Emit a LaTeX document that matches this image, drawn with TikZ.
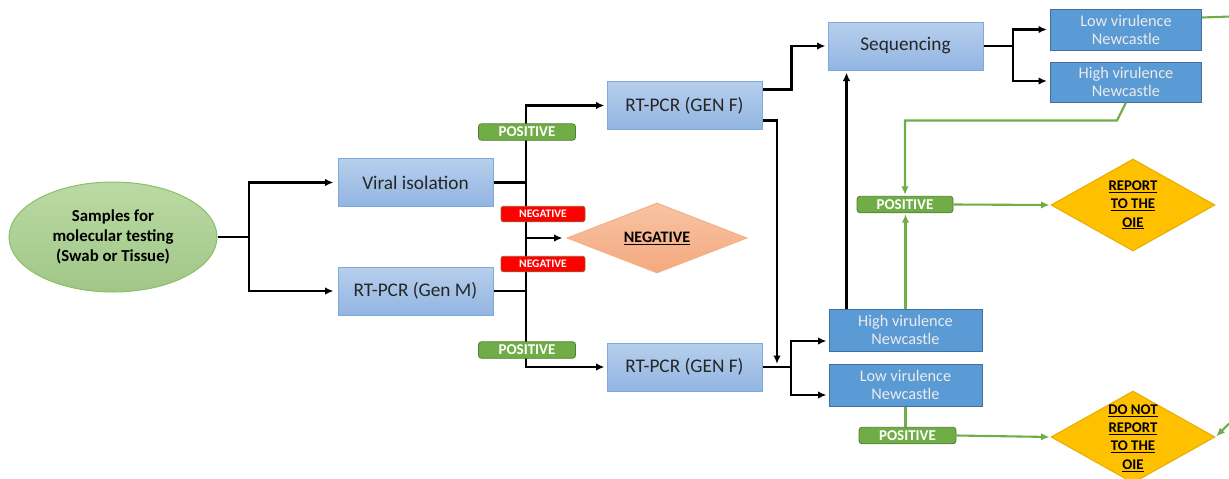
\documentclass[tikz,border=0pt]{standalone}
\usepackage{fontspec}
\setmainfont{Carlito}
\usetikzlibrary{shapes.geometric,arrows.meta,calc}
\definecolor{lbTop}{HTML}{B7CFEC}
\definecolor{lbBot}{HTML}{92B5E2}
\definecolor{lbBorder}{HTML}{7FA8DC}
\definecolor{dbFill}{HTML}{5B9BD5}
\definecolor{dbBorder}{HTML}{41719C}
\definecolor{posFill}{HTML}{70AD47}
\definecolor{posBorder}{HTML}{507E32}
\definecolor{negBorder}{HTML}{A05A2C}
\definecolor{grnLine}{HTML}{70AD47}
\definecolor{ellFill}{HTML}{A9D18E}
\definecolor{ellBorder}{HTML}{8CC068}
\definecolor{negTop}{HTML}{F8C3A4}
\definecolor{negBot}{HTML}{F4A97F}
\definecolor{negDraw}{HTML}{F4B183}
\definecolor{repFill}{HTML}{FFC000}
\definecolor{repDraw}{HTML}{E6AC00}
\begin{document}
\begin{tikzpicture}[x=1pt,y=-1pt,
  lbox/.style={draw=lbBorder, line width=1pt, top color=lbTop, bottom color=lbBot,
    minimum width=155pt, minimum height=48pt, inner sep=0pt, text=black!85,
    font=\fontsize{19.3}{22}\selectfont},
  dbox/.style={draw=dbBorder, line width=1pt, fill=dbFill, minimum width=151pt,
    minimum height=41pt, inner sep=0pt, align=center, text=white!92!black,
    font=\fontsize{16.3}{18}\selectfont},
  poslab/.style={draw=posBorder, line width=0.8pt, fill=posFill, rounded corners=3pt,
    minimum width=97pt, minimum height=16.5pt, inner sep=0pt, text=white,
    font=\bfseries\fontsize{15}{16}\selectfont},
  neglab/.style={draw=negBorder, line width=0.8pt, fill=red, rounded corners=2.5pt,
    minimum width=84pt, minimum height=15.5pt, inner sep=0pt, text=white,
    font=\bfseries\fontsize{11.5}{12}\selectfont},
  ydiam/.style={diamond, draw=repDraw, line width=1pt, fill=repFill,
    minimum width=164pt, minimum height=92pt, inner sep=0pt},
  dtext/.style={align=center, inner sep=0pt, font=\bfseries\fontsize{14.8}{18.3}\selectfont},
  blk/.style={line width=2.1pt, draw=black},
  arr/.style={-{Latex[length=8.5pt,width=7.5pt]}},
  grn/.style={line width=2.1pt, draw=grnLine}
]
\useasboundingbox (0,0) rectangle (1229,479);
\clip (0,0) rectangle (1229,479);

% nodes
\node[ellipse, draw=ellBorder, line width=1pt, top color=ellFill!80!white, bottom color=ellFill!95!black,
  minimum width=208pt, minimum height=110pt, inner sep=0pt, align=center,
  font=\bfseries\fontsize{16.8}{20}\selectfont] (ell) at (113,237)
  {Samples for\\molecular testing\\(Swab or Tissue)};
\node[lbox] (viral) at (415.5,182.5) {Viral isolation};
\node[lbox] (genm) at (415.5,291) {RT-PCR (Gen M)};
\node[lbox] (gf1) at (684.5,105.5) {RT-PCR (GEN F)};
\node[lbox] (gf2) at (684.5,367) {RT-PCR (GEN F)};
\node[diamond, draw=negDraw, line width=1pt, top color=negTop, bottom color=negBot,
  minimum width=180pt, minimum height=70pt, inner sep=0pt] (negd) at (657,238) {};
\node[inner sep=0pt, font=\bfseries\fontsize{16}{18}\selectfont] (negtxt) at (negd.center) {\underline{NEGATIVE}};
\node[lbox] (seq) at (905.5,46) {Sequencing};
\node[dbox] (lv1) at (1126,29.5) {Low virulence\\Newcastle};
\node[dbox, minimum height=40pt] (hv1) at (1126,82) {High virulence\\Newcastle};
\node[dbox, minimum width=153pt, minimum height=42pt] (hv2) at (905.5,330) {High virulence\\Newcastle};
\node[dbox, minimum width=153pt, minimum height=42pt] (lv2) at (905.5,385) {Low virulence\\Newcastle};
\node[ydiam] (rep) at (1133,205) {};
\node[dtext] (reptxt) at (rep.center) {\underline{REPORT}\\\underline{TO THE}\\\underline{OIE}};
\node[ydiam] (dnr) at (1133,437) {};
\node[dtext] (dnrtxt) at (1133,438) {\underline{DO NOT}\\\underline{REPORT}\\\underline{TO THE}\\\underline{OIE}};

% junction coordinates
\coordinate (j1) at (249,237);
\coordinate (j2) at (526,238);
\coordinate (j3) at (777,367);
\coordinate (j4) at (791,367);
\coordinate (j5) at (1013,46);

% black connectors
\draw[blk] (ell.east) -- (j1);
\draw[blk,arr,shorten >=4pt] (j1) |- (viral.west);
\draw[blk,arr,shorten >=4pt] (j1) |- (genm.west);
\draw[blk] (viral.east) -- (viral.east -| j2);
\draw[blk] (genm.east) -- (genm.east -| j2);
\draw[blk,arr,shorten >=2pt] (j2) |- (gf1.west);
\draw[blk,arr,shorten >=2pt] (j2) |- (gf2.west);
\draw[blk,arr,shorten >=4pt] (j2) -- (negd.west);
\draw[blk,arr,shorten >=2pt] ([yshift=16pt]gf1.east) -- ++(29,0) |- (seq.west);
\draw[blk,arr,shorten >=3pt] ([yshift=-15pt]gf1.east) -| (j3);
\draw[blk] (gf2.east) -- (j4);
\draw[blk,arr,shorten >=2pt] (j4) |- ([yshift=-11pt]hv2.west);
\draw[blk,arr,shorten >=2pt] (j4) |- ([yshift=-10pt]lv2.west);
\draw[blk,arr,shorten >=2pt] ([xshift=18pt]hv2.north west) -- ([xshift=18pt]hv2.north west |- seq.south);
\draw[blk] (seq.east) -- (j5);
\draw[blk,arr,shorten >=3pt] (j5) |- (lv1.west);
\draw[blk,arr,shorten >=3pt] (j5) |- ([yshift=1pt]hv1.west);

% labels on black lines
\node[poslab] (posA) at (527,132) {POSITIVE};
\node[poslab] (posB) at (527,350) {POSITIVE};
\node[neglab] (negA) at (543,214) {NEGATIVE};
\node[neglab] (negB) at (543,264) {NEGATIVE};

% green labels
\node[poslab, minimum width=96pt] (pos1) at (905,204.5) {POSITIVE};
\node[poslab, minimum width=97pt] (pos2) at (907.5,435.5) {POSITIVE};

% green connectors
\draw[grn,arr,shorten >=1pt] (hv1.south) -- ++(-9,18) -| (pos1.north);
\draw[grn,arr,shorten >=1pt] (hv2.north) -- (hv2.north |- pos1.south);
\draw[grn,arr,shorten >=1pt] (pos1.east) -- (rep.west);
\draw[grn] (lv2.south) -- (lv2.south |- pos2.north);
\draw[grn,arr,shorten >=1pt] (pos2.east) -- (dnr.west);
\draw[grn,arr,shorten >=1pt] ([yshift=-9pt]lv1.north east) -- (1245,16) -- (1245,408) -- (dnr.east);
\end{tikzpicture}
\end{document}
